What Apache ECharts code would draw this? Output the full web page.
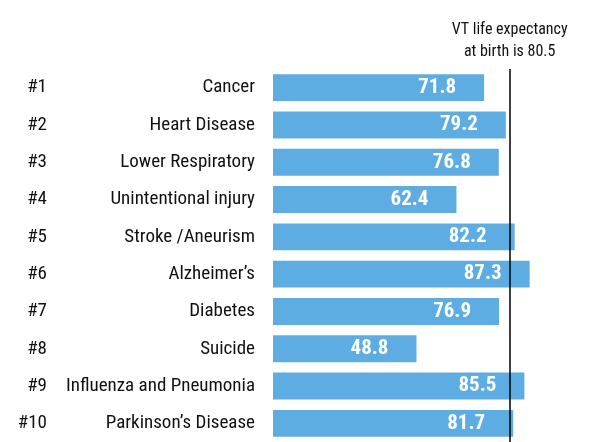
<!DOCTYPE html>
<html>
<head>
<meta charset="utf-8">
<script src="https://cdn.jsdelivr.net/npm/echarts@6/dist/echarts.min.js"></script>
<style>
  html, body { margin: 0; padding: 0; background: #fff; }
  #chart { width: 591px; height: 442px; }
</style>
</head>
<body>
<div id="chart"></div>
<script>
// leading causes of death, life expectancy at death
const ranks = ['#1', '#2', '#3', '#4', '#5', '#6', '#7', '#8', '#9', '#10'];
const causes = ['Cancer', 'Heart Disease', 'Lower Respiratory', 'Unintentional injury',
  'Stroke /Aneurism', 'Alzheimer\u2019s', 'Diabetes', 'Suicide',
  'Influenza and Pneumonia', 'Parkinson\u2019s Disease'];
const ages = [71.8, 79.2, 76.8, 62.4, 82.2, 87.3, 76.9, 48.8, 85.5, 81.7];
const vtLifeExpectancy = 80.5;

const font = '"Roboto Condensed", "Open Sans Condensed", sans-serif';

const chart = echarts.init(document.getElementById('chart'));

const option = {
  animation: false,
  grid: { left: 273, right: 24, top: 69, bottom: 0 },
  xAxis: {
    type: 'value',
    min: 0,
    max: 100,
    show: false
  },
  yAxis: [
    {
      type: 'category',
      data: causes,
      inverse: true,
      axisLine: { show: false },
      axisTick: { show: false },
      axisLabel: { margin: 18, color: '#111', fontSize: 19, fontFamily: font }
    },
    {
      type: 'category',
      data: ranks,
      inverse: true,
      position: 'left',
      offset: 208,
      axisLine: { show: false },
      axisTick: { show: false },
      axisLabel: { margin: 18, color: '#111', fontSize: 19, fontFamily: font }
    }
  ],
  series: [
    {
      type: 'bar',
      data: ages,
      barCategoryGap: '28%',
      itemStyle: { color: '#5dade2' },
      label: {
        show: true,
        position: 'insideRight',
        distance: 28,
        color: '#fff',
        fontWeight: 'bold',
        fontSize: 21,
        fontFamily: font
      },
      markLine: {
        silent: true,
        symbol: 'none',
        lineStyle: { color: '#000', width: 1.5, type: 'solid' },
        label: {
          show: true,
          position: 'start',
          distance: 6,
          formatter: 'VT life expectancy\nat birth is ' + vtLifeExpectancy,
          color: '#111',
          fontSize: 16,
          lineHeight: 22,
          fontFamily: font
        },
        data: [{ xAxis: vtLifeExpectancy }]
      }
    }
  ]
};

chart.setOption(option);
</script>
</body>
</html>
